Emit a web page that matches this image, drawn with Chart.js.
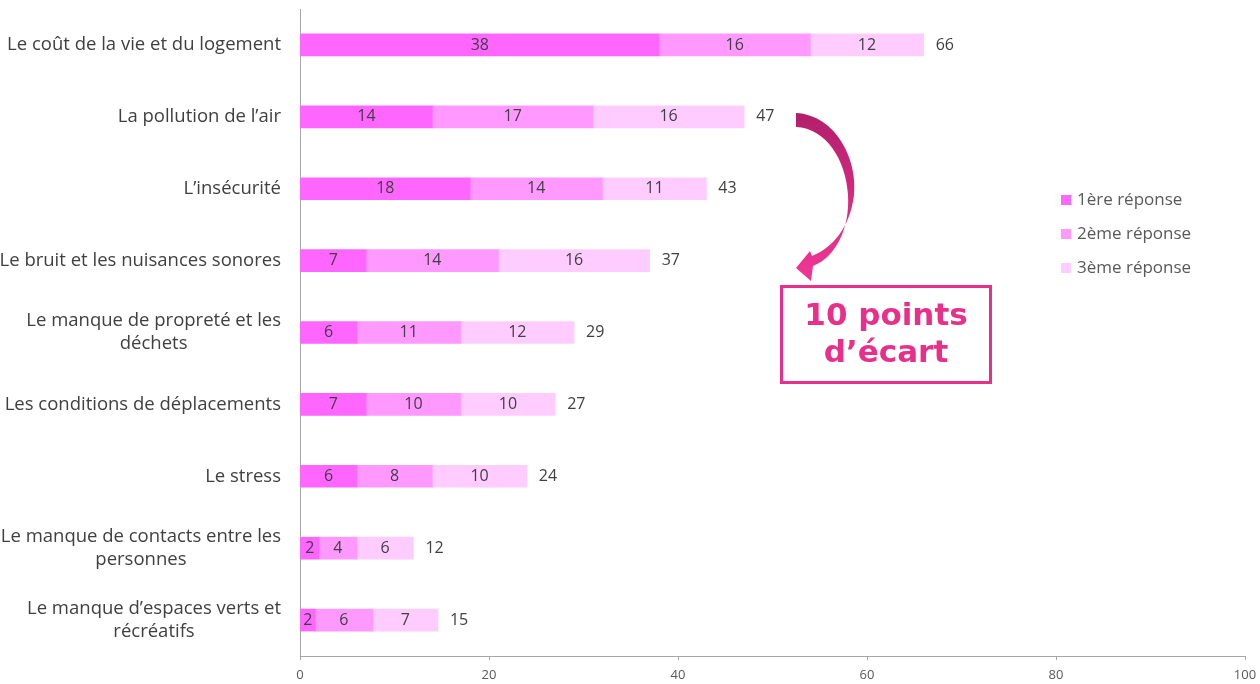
<!DOCTYPE html>
<html>
<head>
<meta charset="utf-8">
<script src="https://cdn.jsdelivr.net/npm/chart.js@4"></script>
<style>
  html, body { margin: 0; padding: 0; background: #fff; }
  #wrap { width: 1260px; height: 684px; position: relative; }
</style>
</head>
<body>
<div id="wrap"><canvas id="graph"></canvas></div>
<script>
var categories = [
  "Le coût de la vie et du logement",
  "La pollution de l’air",
  "L’insécurité",
  "Le bruit et les nuisances sonores",
  ["Le manque de propreté et les", "déchets"],
  "Les conditions de déplacements",
  "Le stress",
  ["Le manque de contacts entre les", "personnes"],
  ["Le manque d’espaces verts et", "récréatifs"]
];
var reponse1 = [38, 14, 18, 7, 6, 7, 6, 2, 1.6];
var reponse2 = [16, 17, 14, 14, 11, 10, 8, 4, 6.1];
var reponse3 = [12, 16, 11, 16, 12, 10, 10, 6, 6.9];
var seriesNames = ["1ère réponse", "2ème réponse", "3ème réponse"];
var colors = ["#FF66FF", "#FF99FF", "#FFCCFF"];
var xTicks = [0, 20, 40, 60, 80, 100];

var FONT = "'Open Sans', 'Liberation Sans', sans-serif";

// category labels: block right-aligned, lines centred inside the block
var catPlugin = {
  id: "cats",
  afterDraw: function (chart) {
    var ctx = chart.ctx, y = chart.scales.y;
    ctx.save();
    ctx.font = "18.5px " + FONT;
    ctx.fillStyle = "#404040";
    ctx.textAlign = "center";
    ctx.textBaseline = "middle";
    categories.forEach(function (c, i) {
      var lines = Array.isArray(c) ? c : [c];
      var w = Math.max.apply(null, lines.map(function (l) { return ctx.measureText(l).width; }));
      var cx = 281 - w / 2;
      var cy = y.getPixelForValue(i);
      var lh = 23;
      lines.forEach(function (l, k) {
        ctx.fillText(l, cx, cy + (k - (lines.length - 1) / 2) * lh);
      });
    });
    ctx.restore();
  }
};

// data labels inside the bars + totals at the end
var labelsPlugin = {
  id: "labels",
  afterDatasetsDraw: function (chart) {
    var ctx = chart.ctx;
    ctx.save();
    ctx.font = "16px " + FONT;
    ctx.fillStyle = "#404040";
    ctx.textBaseline = "middle";
    chart.data.datasets.forEach(function (ds, i) {
      var meta = chart.getDatasetMeta(i);
      meta.data.forEach(function (bar, j) {
        ctx.textAlign = "center";
        ctx.fillText(Math.round(ds.data[j]), (bar.x + bar.base) / 2, bar.y);
      });
    });
    var last = chart.getDatasetMeta(chart.data.datasets.length - 1);
    last.data.forEach(function (bar, j) {
      var tot = reponse1[j] + reponse2[j] + reponse3[j];
      ctx.textAlign = "left";
      ctx.fillText(Math.round(tot), bar.x + 12, bar.y);
    });
    ctx.restore();
  }
};

// legend, arrow and annotation box
var extrasPlugin = {
  id: "extras",
  afterDraw: function (chart) {
    var ctx = chart.ctx;
    ctx.save();
    // legend
    ctx.font = "17px " + FONT;
    ctx.textBaseline = "middle";
    ctx.textAlign = "left";
    seriesNames.forEach(function (n, i) {
      var y = 200 + i * 34;
      ctx.fillStyle = colors[i];
      ctx.fillRect(1061, y - 5, 10, 10);
      ctx.fillStyle = "#595959";
      ctx.fillText(n, 1077, y);
    });
    // curved arrow
    var g = ctx.createLinearGradient(0, 113, 0, 270);
    g.addColorStop(0, "#B21F6B");
    g.addColorStop(1, "#EE3594");
    ctx.fillStyle = g;
    ctx.beginPath();
    ctx.moveTo(796, 113);
    ctx.bezierCurveTo(836, 115, 858, 160, 854, 195);
    ctx.bezierCurveTo(850, 228, 832, 248, 812, 256);
    ctx.lineTo(810, 251);
    ctx.lineTo(796, 268);
    ctx.lineTo(811, 281);
    ctx.lineTo(813, 266);
    ctx.bezierCurveTo(836, 257, 850, 228, 848, 195);
    ctx.bezierCurveTo(846, 160, 826, 128, 796, 127);
    ctx.closePath();
    ctx.fill();
    // box
    ctx.strokeStyle = "#E8308A";
    ctx.lineWidth = 3;
    ctx.strokeRect(781.5, 286.5, 209, 96);
    ctx.fillStyle = "#E8308A";
    ctx.font = "bold 31px 'DejaVu Sans', Verdana, sans-serif";
    ctx.textAlign = "center";
    ctx.fillText("10 points", 886, 317);
    ctx.fillText("d’écart", 886, 354);
    ctx.restore();
  }
};

var datasets = [reponse1, reponse2, reponse3].map(function (d, i) {
  return {
    label: seriesNames[i],
    data: d,
    backgroundColor: colors[i],
    borderWidth: 0,
    barThickness: 22
  };
});

var graph = new Chart("graph", {
  type: "bar",
  data: { labels: categories, datasets: datasets },
  options: {
    indexAxis: "y",
    responsive: true,
    maintainAspectRatio: false,
    animation: false,
    layout: { padding: { top: 9, right: 15, left: 0, bottom: 0 } },
    plugins: { legend: { display: false }, tooltip: { enabled: false } },
    scales: {
      x: {
        stacked: true,
        min: 0,
        max: 100,
        afterBuildTicks: function (s) { s.ticks = xTicks.map(function (v) { return { value: v }; }); },
        afterFit: function (s) { s.height = 28; s.paddingLeft = 0; s.paddingRight = 0; },
        grid: { drawOnChartArea: false, drawTicks: true, tickLength: 4, color: "#A6A6A6" },
        border: { display: true, color: "#A6A6A6" },
        ticks: { color: "#595959", font: { family: FONT, size: 13 }, padding: 7 }
      },
      y: {
        stacked: true,
        afterFit: function (s) { s.width = 300; s.paddingTop = 0; s.paddingBottom = 0; },
        grid: { display: false },
        border: { display: true, color: "#A6A6A6" },
        ticks: { display: false }
      }
    }
  },
  plugins: [labelsPlugin, extrasPlugin, catPlugin]
});
</script>
</body>
</html>
